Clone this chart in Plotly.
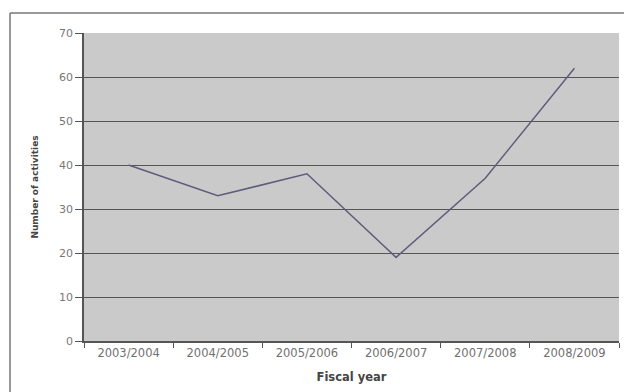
import plotly.graph_objects as go

years = ["2003/2004", "2004/2005", "2005/2006", "2006/2007", "2007/2008", "2008/2009"]
activities = [40, 33, 38, 19, 37, 62]
y_ticks = [0, 10, 20, 30, 40, 50, 60, 70]

fig = go.Figure()
fig.add_trace(go.Scatter(
    x=years, y=activities, mode="lines",
    line=dict(color="#5e5c7c", width=1.5),
    showlegend=False,
))

L, R, T, B = 84, 5, 33, 51
W, H = 624, 392
pw = W - L - R
ph = H - T - B

x_left = (10 - L) / pw
y_top = (H - B - 13) / ph
y_bottom = (H - B - (H + 5)) / ph

fig.update_layout(
    width=W, height=H,
    margin=dict(l=L, r=R, t=T, b=B, autoexpand=False),
    paper_bgcolor="white",
    plot_bgcolor="#cacaca",
    font=dict(family="DejaVu Sans, sans-serif", color="#666666", size=9),
    xaxis=dict(
        type="category",
        range=[-0.5, len(years) - 0.5],
        tickson="boundaries",
        ticks="outside", ticklen=5, tickcolor="#555555",
        showline=True, linecolor="#555555", linewidth=1.5,
        showgrid=False,
        automargin=False,
        tickfont=dict(size=11.5, color="#707070"),
        title=dict(text="<b>Fiscal year</b>", font=dict(size=11.5, color="#444444"), standoff=14),
    ),
    yaxis=dict(
        range=[0, 70],
        tickvals=y_ticks,
        ticks="outside", ticklen=7, tickcolor="#555555",
        showline=True, linecolor="#555555", linewidth=1.5,
        showgrid=True, gridcolor="#555555", gridwidth=1.2,
        zeroline=False,
        automargin=False,
        tickfont=dict(size=11, color="#777777"),
        title=dict(text="<b>Number of activities</b>", font=dict(size=9, color="#444444"), standoff=19),
    ),
    shapes=[
        dict(type="line", xref="paper", yref="paper",
             x0=x_left, x1=x_left, y0=y_bottom, y1=y_top,
             line=dict(color="#777777", width=1.5), layer="below"),
        dict(type="line", xref="paper", yref="paper",
             x0=x_left, x1=1.02, y0=y_top, y1=y_top,
             line=dict(color="#777777", width=1.5), layer="below"),
    ],
)

fig.write_html("out.html")
